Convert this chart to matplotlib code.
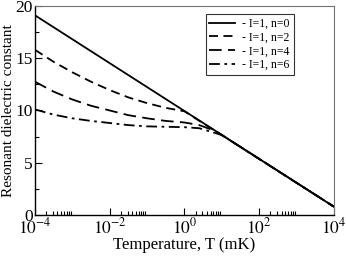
import matplotlib
matplotlib.use("Agg")
import matplotlib.pyplot as plt
from matplotlib.ticker import FixedLocator, FixedFormatter
import numpy as np

plt.rcParams['font.family'] = ['Liberation Serif', 'DejaVu Serif']
plt.rcParams['mathtext.fontset'] = 'stix'

# data (log10 of temperature in mK, dielectric constant)
logT_n0 = [-4, 4]
eps_n0 = [19.1, 0.8]

logT_n2 = [-4, -3.5, -3, -2.5, -2, -1.5, -1, -0.5, 0.0, 4]
eps_n2 = [15.8, 14.65, 13.65, 12.75, 11.95, 11.25, 10.7, 10.25, 9.92, 0.8]

logT_n4 = [-4, -3.5, -3, -2.5, -2, -1.5, -1, -0.5, 0.0, 0.4, 0.85, 4]
eps_n4 = [12.75, 11.8, 11.05, 10.45, 10.0, 9.55, 9.25, 9.0, 8.85, 8.6, 8.0, 0.8]

logT_n6 = [-4, -3.5, -3, -2.5, -2, -1.5, -1, 0.0, 0.4, 1.0, 4]
eps_n6 = [10.1, 9.6, 9.25, 9.0, 8.8, 8.6, 8.48, 8.4, 8.3, 7.65, 0.8]

labels = ["- I=1, n=0", "- I=1, n=2", "- I=1, n=4", "- I=1, n=6"]
xtick_exps = [-4, -2, 0, 2, 4]
yticks = [0, 5, 10, 15, 20]

fig = plt.figure(figsize=(3.46, 2.56), dpi=100)
ax = fig.add_axes([0.101, 0.160, 0.864, 0.817])

lw = 1.3
ax.plot(10.0 ** np.array(logT_n0), eps_n0, color='black', lw=lw, ls='-', label=labels[0])
ax.plot(10.0 ** np.array(logT_n2), eps_n2, color='black', lw=lw, ls=(0, (5, 3)), label=labels[1])
ax.plot(10.0 ** np.array(logT_n4), eps_n4, color='black', lw=lw, ls=(0, (7, 3.5)), label=labels[2])
ax.plot(10.0 ** np.array(logT_n6), eps_n6, color='black', lw=lw, ls=(0, (6, 2.5, 1.5, 2.5)), label=labels[3])

ax.set_xscale('log')
ax.set_xlim(1e-4, 1e4)
ax.set_ylim(0, 20)

ax.xaxis.set_major_locator(FixedLocator([10.0 ** e for e in xtick_exps]))
ax.xaxis.set_major_formatter(FixedFormatter([r'$10^{%d}$' % e for e in xtick_exps]))
minors = [k * 10.0 ** e for e in xtick_exps[:-1] for k in range(2, 10)]
ax.xaxis.set_minor_locator(FixedLocator(minors))
ax.yaxis.set_major_locator(FixedLocator(yticks))
ax.yaxis.set_minor_locator(FixedLocator([2.5, 7.5, 12.5, 17.5]))

ax.tick_params(which='both', direction='in', top=False, right=False, labelsize=12.5, pad=1.5)
ax.tick_params(which='major', length=5, width=0.8)
ax.tick_params(which='minor', length=3, width=0.8)

for s in ['left', 'bottom']:
    ax.spines[s].set_color('black')
    ax.spines[s].set_linewidth(1.0)
for s in ['top', 'right']:
    ax.spines[s].set_color('0.45')
    ax.spines[s].set_linewidth(0.8)

ax.set_xlabel('Temperature, T (mK)', fontsize=12, labelpad=0)
ax.set_ylabel('Resonant dielectric constant', fontsize=11)
ax.yaxis.set_label_coords(-0.066, 0.5)

leg = ax.legend(loc='upper right', bbox_to_anchor=(0.865, 0.96), fontsize=8.5,
                frameon=True, fancybox=False, handlelength=2.2, handletextpad=0.6,
                borderpad=0.3, labelspacing=0.15, borderaxespad=0)
leg.get_frame().set_edgecolor('black')
leg.get_frame().set_linewidth(0.8)

fig.savefig('out.png', dpi=100)
